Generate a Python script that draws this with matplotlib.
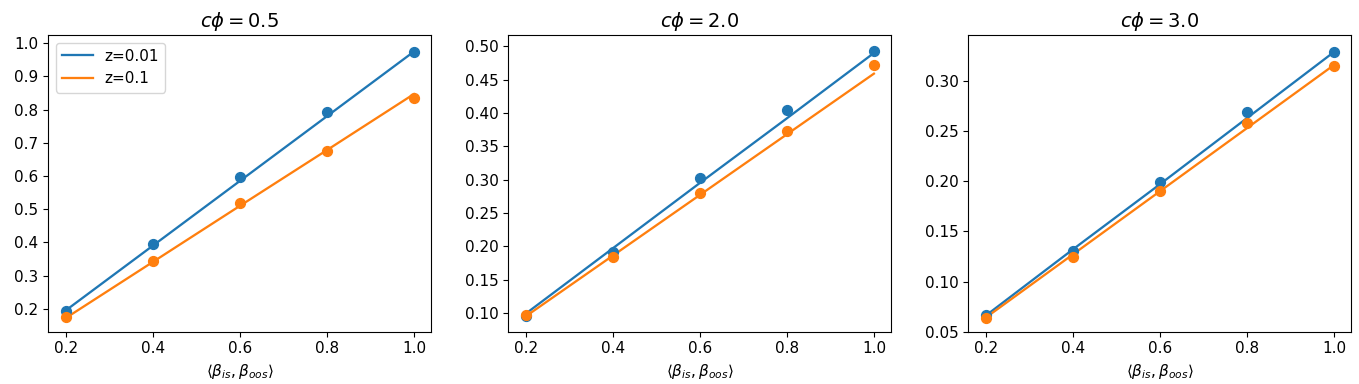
import matplotlib
matplotlib.use("Agg")
import matplotlib.pyplot as plt
import numpy as np

plt.rc("font", size=11)
plt.rc("lines", linewidth=1.65)

x = [0.2, 0.4, 0.6, 0.8, 1.0]
c_phi = [0.5, 2.0, 3.0]
labels = ["z=0.01", "z=0.1"]

# theory lines, one per panel: (z=0.01, z=0.1)
theory = [
    ([0.195, 0.390, 0.585, 0.780, 0.975], [0.172, 0.341, 0.510, 0.678, 0.847]),
    ([0.099, 0.197, 0.295, 0.392, 0.490], [0.095, 0.186, 0.277, 0.368, 0.459]),
    ([0.066, 0.132, 0.197, 0.263, 0.329], [0.064, 0.127, 0.190, 0.253, 0.316]),
]
# simulated points
sim = [
    ([0.194, 0.396, 0.597, 0.793, 0.975], [0.176, 0.345, 0.518, 0.676, 0.835]),
    ([0.0955, 0.192, 0.302, 0.405, 0.4935], [0.0965, 0.184, 0.280, 0.373, 0.4715]),
    ([0.067, 0.131, 0.199, 0.269, 0.3286], [0.0633, 0.125, 0.190, 0.258, 0.315]),
]
ylims = [(0.131, 1.025), (0.072, 0.517), (0.05, 0.346)]

fig = plt.figure(figsize=(13.59, 3.84), dpi=100)
lefts = [48.3, 508.3, 968.3]
colors = ["tab:blue", "tab:orange"]

for k in range(3):
    ax = fig.add_axes([lefts[k] / 1359, 52.3 / 384, 383 / 1359, 296.7 / 384])
    for j in range(2):
        ax.plot(x, theory[k][j], color=colors[j], label=labels[j])
        ax.scatter(x, sim[k][j], color=colors[j], s=50, zorder=3)
    ax.set_ylim(*ylims[k])
    ax.set_title(r"$c\phi = {}$".format(c_phi[k]), fontsize=14)
    ax.set_xlabel(r"$\langle \beta_{is}, \beta_{oos} \rangle$", fontsize=11)
    ax.set_xticks([0.2, 0.4, 0.6, 0.8, 1.0])
    if k == 0:
        ax.legend(loc="upper left")

fig.savefig("out.png", dpi=100)
